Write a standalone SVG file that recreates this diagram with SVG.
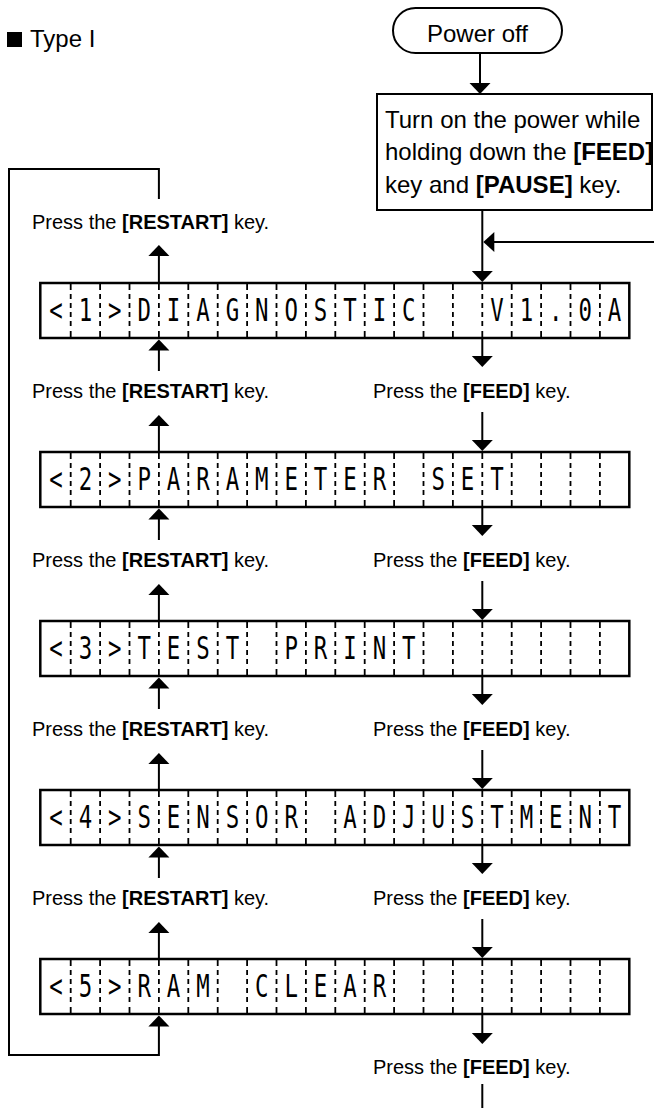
<svg xmlns="http://www.w3.org/2000/svg" xmlns:xlink="http://www.w3.org/1999/xlink" width="654" height="1108" viewBox="0 0 654 1108">
<style>
.t{font-family:"Liberation Sans",Arial,sans-serif;fill:#000}
.big{font-size:24px}
.lbl{font-size:20px}
.b{font-weight:bold}
.ln{stroke:#000;stroke-width:2;fill:none}
.box{stroke:#000;stroke-width:2.5;fill:#fff}
.div{stroke:#000;stroke-width:1.8;fill:none;stroke-dasharray:7 4 5 4 5 4 5 4 5 5 7}
.lcd{font-family:"DejaVu Sans Mono","Liberation Mono",monospace;font-size:32px;fill:#000;text-anchor:middle}
</style>
<defs>
<path id="ahd" d="M-10.5,-11 L10.5,-11 L0,0 Z" fill="#000"/>
<path id="ahu" d="M-10.5,11 L10.5,11 L0,0 Z" fill="#000"/>
<path id="ahl" d="M11,-10 L11,10 L0,0 Z" fill="#000"/>
<g id="lcdframe">
<rect class="box" x="40.3" y="0" width="589" height="55"/>
<path class="div" d="M70.7,0V55M100.1,0V55M129.5,0V55M158.9,0V55M188.3,0V55M217.7,0V55M247.1,0V55M276.5,0V55M305.9,0V55M335.3,0V55M364.7,0V55M394.1,0V55M423.5,0V55M452.9,0V55M482.3,0V55M511.7,0V55M541.1,0V55M570.5,0V55M599.9,0V55"/>
</g>
</defs>

<g id="title">
<rect x="7" y="32" width="15" height="15" fill="#000"/>
<text class="t big" x="30" y="47">Type I</text>
</g>

<g id="power-off">
<rect x="393" y="8" width="169" height="45" rx="22.5" fill="#fff" stroke="#000" stroke-width="2"/>
<text class="t big" x="477.5" y="41.5" text-anchor="middle">Power off</text>
</g>

<g id="turn-on">
<rect x="377" y="94" width="275" height="116" fill="#fff" stroke="#000" stroke-width="2"/>
<text class="t big" x="385" y="128">Turn on the power while</text>
<text class="t big" x="385" y="160">holding down the <tspan class="b">[FEED]</tspan></text>
<text class="t big" x="385" y="193">key and <tspan class="b">[PAUSE]</tspan> key.</text>
</g>

<g id="lcd1">
<use xlink:href="#lcdframe" transform="translate(0,283)"/>
<text class="lcd" transform="scale(0.7,1)" y="321.5" xml:space="preserve" x="80 122 164 206 248 290 332 374 416 458 500 542 584 626 668 710 752 794 836 878">&lt;1&gt;DIAGNOSTIC  V1.0A</text>
</g>
<g id="lcd2">
<use xlink:href="#lcdframe" transform="translate(0,452)"/>
<text class="lcd" transform="scale(0.7,1)" y="490.5" xml:space="preserve" x="80 122 164 206 248 290 332 374 416 458 500 542 584 626 668 710">&lt;2&gt;PARAMETER SET</text>
</g>
<g id="lcd3">
<use xlink:href="#lcdframe" transform="translate(0,621)"/>
<text class="lcd" transform="scale(0.7,1)" y="659.5" xml:space="preserve" x="80 122 164 206 248 290 332 374 416 458 500 542 584">&lt;3&gt;TEST PRINT</text>
</g>
<g id="lcd4">
<use xlink:href="#lcdframe" transform="translate(0,790)"/>
<text class="lcd" transform="scale(0.7,1)" y="828.5" xml:space="preserve" x="80 122 164 206 248 290 332 374 416 458 500 542 584 626 668 710 752 794 836 878">&lt;4&gt;SENSOR ADJUSTMENT</text>
</g>
<g id="lcd5">
<use xlink:href="#lcdframe" transform="translate(0,959)"/>
<text class="lcd" transform="scale(0.7,1)" y="997.5" xml:space="preserve" x="80 122 164 206 248 290 332 374 416 458 500 542">&lt;5&gt;RAM CLEAR</text>
</g>

<g id="labels">
<text class="t lbl" x="32" y="229">Press the <tspan class="b">[RESTART]</tspan> key.</text>
<text class="t lbl" x="32" y="398">Press the <tspan class="b">[RESTART]</tspan> key.</text>
<text class="t lbl" x="373" y="398">Press the <tspan class="b">[FEED]</tspan> key.</text>
<text class="t lbl" x="32" y="567">Press the <tspan class="b">[RESTART]</tspan> key.</text>
<text class="t lbl" x="373" y="567">Press the <tspan class="b">[FEED]</tspan> key.</text>
<text class="t lbl" x="32" y="736">Press the <tspan class="b">[RESTART]</tspan> key.</text>
<text class="t lbl" x="373" y="736">Press the <tspan class="b">[FEED]</tspan> key.</text>
<text class="t lbl" x="32" y="905">Press the <tspan class="b">[RESTART]</tspan> key.</text>
<text class="t lbl" x="373" y="905">Press the <tspan class="b">[FEED]</tspan> key.</text>
<text class="t lbl" x="373" y="1074">Press the <tspan class="b">[FEED]</tspan> key.</text>
</g>

<g id="connectors">
<path class="ln" d="M480,53V84"/>
<use xlink:href="#ahd" x="480" y="94"/>
<path class="ln" d="M482.3,210V272"/>
<use xlink:href="#ahd" x="482.3" y="282"/>
<path class="ln" d="M654,242H494"/>
<use xlink:href="#ahl" x="483.3" y="242"/>
<path class="ln" d="M158.9,283V256"/>
<use xlink:href="#ahu" x="158.9" y="245"/>
<path class="ln" d="M158.9,199V169H9V1055H158.9V1026"/>
<use xlink:href="#ahu" x="158.9" y="1015.5"/>
<path class="ln" d="M158.9,371V350"/>
<use xlink:href="#ahu" x="158.9" y="339.5"/>
<path class="ln" d="M158.9,452V426"/>
<use xlink:href="#ahu" x="158.9" y="415"/>
<path class="ln" d="M482.3,338V356"/>
<use xlink:href="#ahd" x="482.3" y="367"/>
<path class="ln" d="M482.3,412V441"/>
<use xlink:href="#ahd" x="482.3" y="451"/>
<path class="ln" d="M158.9,540V519"/>
<use xlink:href="#ahu" x="158.9" y="508.5"/>
<path class="ln" d="M158.9,621V595"/>
<use xlink:href="#ahu" x="158.9" y="584"/>
<path class="ln" d="M482.3,507V525"/>
<use xlink:href="#ahd" x="482.3" y="536"/>
<path class="ln" d="M482.3,581V610"/>
<use xlink:href="#ahd" x="482.3" y="620"/>
<path class="ln" d="M158.9,709V688"/>
<use xlink:href="#ahu" x="158.9" y="677.5"/>
<path class="ln" d="M158.9,790V764"/>
<use xlink:href="#ahu" x="158.9" y="753"/>
<path class="ln" d="M482.3,676V694"/>
<use xlink:href="#ahd" x="482.3" y="705"/>
<path class="ln" d="M482.3,750V779"/>
<use xlink:href="#ahd" x="482.3" y="789"/>
<path class="ln" d="M158.9,878V857"/>
<use xlink:href="#ahu" x="158.9" y="846.5"/>
<path class="ln" d="M158.9,959V933"/>
<use xlink:href="#ahu" x="158.9" y="922"/>
<path class="ln" d="M482.3,845V863"/>
<use xlink:href="#ahd" x="482.3" y="874"/>
<path class="ln" d="M482.3,919V948"/>
<use xlink:href="#ahd" x="482.3" y="958"/>
<path class="ln" d="M482.3,1014V1033"/>
<use xlink:href="#ahd" x="482.3" y="1044"/>
<path class="ln" d="M482.3,1084V1108"/>
</g>
</svg>
